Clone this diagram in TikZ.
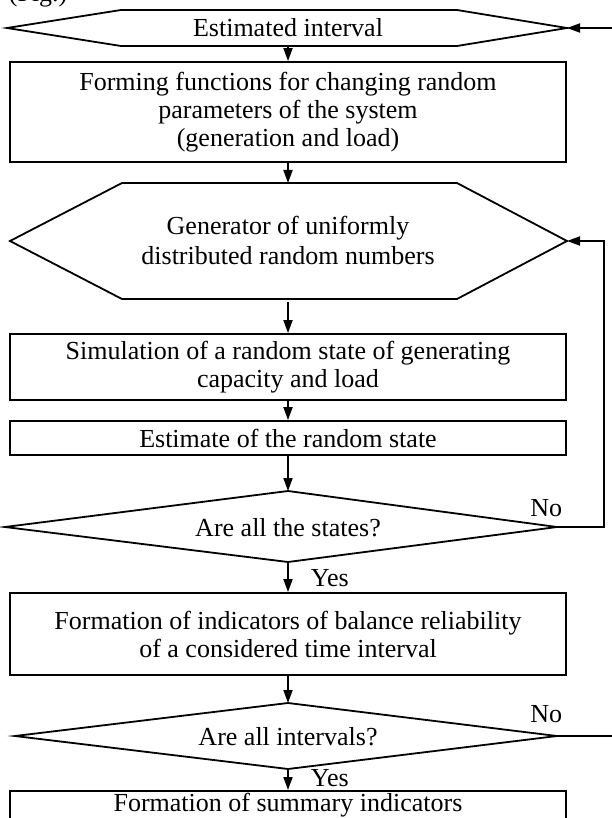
\documentclass[tikz,border=0pt]{standalone}
\usepackage{fontspec}
\setmainfont{Liberation Serif}
\usetikzlibrary{arrows.meta}
\begin{document}
\begin{tikzpicture}[x=1pt,y=-1pt,
  line width=1.8pt,
  txt/.style={font=\fontsize{26}{28}\selectfont, inner sep=0pt, align=center},
  box/.style={draw, line width=1.8pt, minimum width=556pt, inner sep=0pt, align=center, font=\fontsize{26}{28}\selectfont},
  arr/.style={-{Stealth[length=13pt,width=9pt,inset=0pt]}, line width=1.8pt},
  shp/.style={draw, line width=1.8pt, line join=miter}]
\useasboundingbox (0,0) rectangle (612,818);

% partial caption at top
\node[txt, anchor=base west] (fig) at (8,2) {(Fig.)};

% hexagon 1
\coordinate (h1l) at (7,28);
\coordinate (h1tl) at (121,10);
\coordinate (h1tr) at (457,10);
\coordinate (h1r) at (567,28);
\coordinate (h1br) at (457,46);
\coordinate (h1bl) at (121,46);
\coordinate (h1b) at (288,46);
\draw[shp] (h1l) -- (h1tl) -- (h1tr) -- (h1r) -- (h1br) -- (h1bl) -- cycle;
\node[txt] (h1) at (288,28) {Estimated interval};

% rect 1
\node[box, minimum height=100pt] (r1) at (288,112) {Forming functions for changing random\\parameters of the system\\(generation and load)};

% hexagon 2
\coordinate (h2l) at (10,241);
\coordinate (h2tl) at (122,183);
\coordinate (h2tr) at (457,183);
\coordinate (h2r) at (567,241);
\coordinate (h2br) at (457,299);
\coordinate (h2bl) at (122,299);
\coordinate (h2t) at (288,183);
\coordinate (h2b) at (288,302);
\draw[shp] (h2l) -- (h2tl) -- (h2tr) -- (h2r) -- (h2br) -- (h2bl) -- cycle;
\node[txt, font=\fontsize{26}{30}\selectfont] (h2) at (288,240) {Generator of uniformly\\distributed random numbers};

% rect 2, 3
\node[box, minimum height=66pt] (r2) at (288,367) {Simulation of a random state of generating\\capacity and load};
\node[box, minimum height=34pt] (r3) at (288,438) {Estimate of the random state};

% diamond 1
\coordinate (d1l) at (5,527);
\coordinate (d1t) at (288,491);
\coordinate (d1r) at (557,527);
\coordinate (d1b) at (288,562);
\draw[shp] (d1l) -- (d1t) -- (d1r) -- (d1b) -- cycle;
\node[txt] (d1) at (288,528) {Are all the states?};
\coordinate (fb1) at (604,527);
\coordinate (fb1t) at (604,241);

% rect 4
\node[box, minimum height=82pt] (r4) at (288,634) {Formation of indicators of balance reliability\\of a considered time interval};

% diamond 2
\coordinate (d2l) at (15,736);
\coordinate (d2t) at (288,703);
\coordinate (d2r) at (557,736);
\coordinate (d2b) at (288,769);
\draw[shp] (d2l) -- (d2t) -- (d2r) -- (d2b) -- cycle;
\node[txt] (d2) at (288,737) {Are all intervals?};
\coordinate (fb2) at (612,736);
\coordinate (fb0) at (612,28);

% rect 5
\node[box, minimum height=60pt, anchor=north] (r5) at (288,790) {};
\node[txt, anchor=base] (r5t) at (288,811) {Formation of summary indicators};

% labels
\node[txt, anchor=base east] (no1) at (563,516) {No};
\node[txt, anchor=base east] (no2) at (563,722) {No};
\node[txt, anchor=base west] (yes1) at (310,586) {Yes};
\node[txt, anchor=base west] (yes2) at (310,786) {Yes};

% connectors
\draw[arr] (h1b) -- (r1.north);
\draw[arr] (r1.south) -- (h2t);
\draw[arr] (h2b) -- (r2.north);
\draw[arr] (r2.south) -- (r3.north);
\draw[arr] (r3.south) -- (d1t);
\draw[arr] (d1b) -- (r4.north);
\draw[arr] (r4.south) -- (d2t);
\draw[arr] (d2b) -- (r5.north);
\draw[arr] (d1r) -- (fb1) -- (fb1t) -- (h2r);
\draw (d2r) -- (fb2);
\draw[arr] (fb0) -- (h1r);
\end{tikzpicture}
\end{document}
